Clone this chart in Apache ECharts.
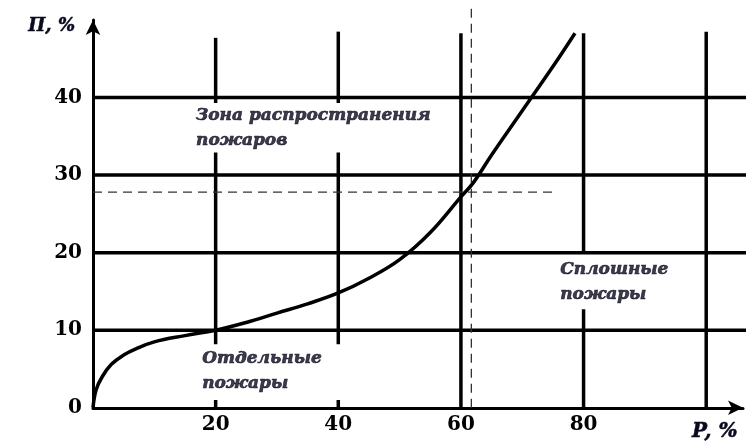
<!DOCTYPE html>
<html><head><meta charset="utf-8">
<script src="https://cdn.jsdelivr.net/npm/echarts@6/dist/echarts.min.js"></script>
<style>html,body{margin:0;padding:0;background:#fff}#c{width:753px;height:442px}</style>
</head><body><div id="c"></div>
<script>
// Data
const curveP = [0, 0.5, 1.5, 3, 5, 7, 10, 15, 20, 25, 30, 35, 40, 45, 50, 55, 60, 62, 65, 70, 75, 78.6];
const curveI = [0, 2.3, 4.0, 5.6, 6.8, 7.6, 8.5, 9.3, 10, 11, 12.2, 13.4, 14.8, 16.7, 19.1, 22.6, 27.2, 29, 32.6, 38.3, 44, 48.3];
const xTickLabels = ['20', '40', '60', '80'];
const yTickLabels = ['0', '10', '20', '30', '40'];
const hLevels = [10, 20, 30, 40];
const hExtent = [0, 107.3];
// vertical grid segments: [P, from, to]
const vSegments = [
  [20, 0, 1.0], [20, 8.2, 32.9], [20, 39.3, 47.7],
  [40, 0, 1.0], [40, 8.2, 32.9], [40, 39.3, 48.5],
  [60, 0, 48.3],
  [80, 0, 12.7], [80, 20, 48.3],
  [100, 0, 48.5]
];
const critP = 61.7;
const critI = 27.8;
const critHEnd = 75;
const critVTop = 51.8;
const annotations = [
  [16.8, 39.3, 'Зона распространения\nпожаров'],
  [17.8, 8.0, 'Отдельные\nпожары'],
  [76.2, 19.4, 'Сплошные\nпожары']
];

const font = 'DejaVu Serif';
const ink = '#000';
const txt = '#0a0a1e';
const series = [];
hLevels.forEach(v => series.push({
  type: 'line', data: [[hExtent[0], v], [hExtent[1], v]], showSymbol: false, symbol: 'none',
  clip: false, silent: true, lineStyle: {color: ink, width: 3.5}, z: 2
}));
vSegments.forEach(s => series.push({
  type: 'line', data: [[s[0], s[1]], [s[0], s[2]]], showSymbol: false, symbol: 'none',
  clip: false, silent: true, lineStyle: {color: ink, width: 3.5}, z: 2
}));
series.push({
  type: 'line', data: [[0, critI], [critHEnd, critI]], symbol: 'none', clip: false, silent: true,
  lineStyle: {color: '#333', width: 1.3, type: [9, 6]}, z: 3
});
series.push({
  type: 'line', data: [[critP, 0], [critP, critVTop]], symbol: 'none', clip: false, silent: true,
  lineStyle: {color: '#333', width: 1.3, type: [9, 6]}, z: 3
});
series.push({
  type: 'line', data: curveP.map((p, i) => [p, curveI[i]]), symbol: 'none', smooth: 0.4,
  clip: false, silent: true, lineStyle: {color: ink, width: 3.5}, z: 4
});
series.push({
  type: 'scatter', symbolSize: 0, silent: true, z: 5,
  data: annotations.map(a => ({value: [a[0], a[1]], name: a[2]})),
  label: {
    show: true, position: [0, 0], align: 'left', verticalAlign: 'top',
    formatter: p => p.name, fontFamily: font, fontStyle: 'italic', fontWeight: 'bold',
    fontSize: 17, lineHeight: 25, color: txt, textBorderColor: txt, textBorderWidth: 0.7
  }
});

const chart = echarts.init(document.getElementById('c'), null, {renderer: 'canvas'});
chart.setOption({
  animation: false,
  backgroundColor: '#fff',
  grid: {left: 93, right: 10, top: 20, bottom: 33, containLabel: false},
  xAxis: {
    type: 'value', min: 0, max: 106, interval: 20,
    name: 'P, %', nameLocation: 'end', nameGap: -51,
    nameTextStyle: {fontFamily: font, fontStyle: 'italic', fontWeight: 'bold', fontSize: 20, color: txt,
      align: 'left', verticalAlign: 'top', padding: [14, 0, 0, 0], textBorderColor: txt, textBorderWidth: 0.5},
    axisLine: {show: true, symbol: ['none', 'arrow'], symbolSize: [11, 15], lineStyle: {color: ink, width: 3}},
    axisTick: {show: false}, splitLine: {show: false},
    axisLabel: {margin: 7, fontFamily: font, fontWeight: 'bold', fontSize: 20, color: ink,
      formatter: v => xTickLabels.includes(String(v)) ? String(v) : ''}
  },
  yAxis: {
    type: 'value', min: 0, max: 50, interval: 10,
    name: 'П, %', nameLocation: 'end', nameGap: -6,
    nameTextStyle: {fontFamily: font, fontStyle: 'italic', fontWeight: 'bold', fontSize: 18, color: txt,
      align: 'right', verticalAlign: 'middle', padding: [0, 18, 0, 0], textBorderColor: txt, textBorderWidth: 0.5},
    axisLine: {show: true, symbol: ['none', 'arrow'], symbolSize: [11, 15], lineStyle: {color: ink, width: 3}},
    axisTick: {show: false}, splitLine: {show: false},
    axisLabel: {margin: 11, fontFamily: font, fontWeight: 'bold', fontSize: 20, color: ink,
      formatter: v => yTickLabels.includes(String(v)) ? String(v) : ''}
  },
  series: series
});
</script></body></html>
